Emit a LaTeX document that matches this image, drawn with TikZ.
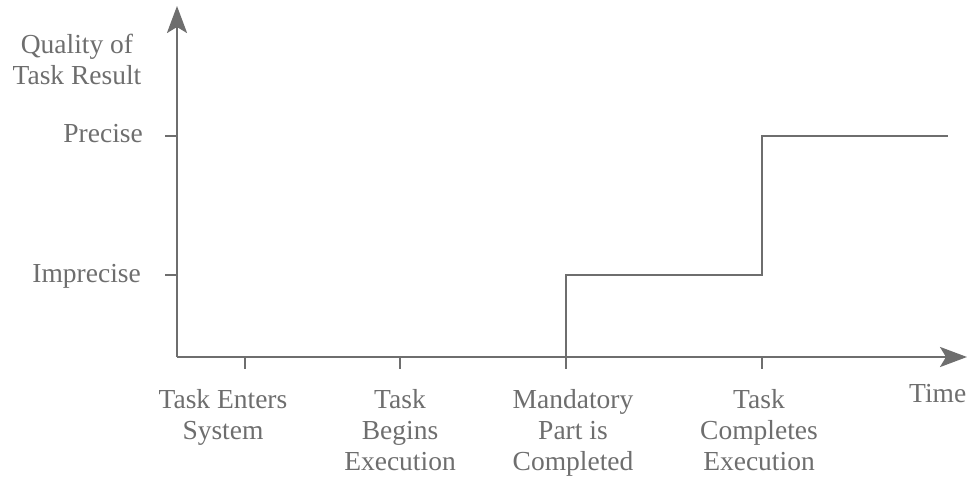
\documentclass[tikz,border=0pt]{standalone}
\usepackage{fontspec}
\setmainfont{Liberation Serif}
\usetikzlibrary{arrows.meta}
\definecolor{ink}{HTML}{6E6E6E}
\begin{document}
\begin{tikzpicture}[x=1pt,y=-1pt,
  axis/.style={draw=ink,line width=2.6pt,-{Stealth[length=27pt,width=20pt,inset=6pt]}},
  curve/.style={draw=ink,line width=2.6pt},
  tick/.style={draw=ink,line width=2pt},
  lbl/.style={text=ink,inner sep=0pt,font=\fontsize{27.5}{31}\selectfont},
  event/.style={lbl,align=center,anchor=north}]
\useasboundingbox (0,0) rectangle (967,484);
% axes
\coordinate (O) at (177,357);
\coordinate (ytop) at (177,6);
\coordinate (xend) at (967,357);
\draw[axis] (O) -- (ytop);
\draw[axis] (O) -- (xend);
% quality levels
\coordinate (imp) at (177,275);
\coordinate (pre) at (177,136);
\draw[tick] (imp) -- ++(-12,0);
\draw[tick] (pre) -- ++(-12,0);
\node[lbl,anchor=base east] (limp) at (141,282) {Imprecise};
\node[lbl,anchor=base east] (lpre) at (143,143) {Precise};
\node[lbl,align=center,anchor=north] (lq) at (77,34) {Quality of\\Task Result};
% time events
\coordinate (t1) at (245,357);
\coordinate (t2) at (400,357);
\coordinate (t3) at (566,357);
\coordinate (t4) at (762,357);
\foreach \t in {t1,t2,t3,t4} \draw[tick] (\t) -- ++(0,12);
\node[event] (e1) at (223,389) {Task Enters\\System};
\node[event] (e2) at (400,389) {Task\\Begins\\Execution};
\node[event] (e3) at (573,389) {Mandatory\\Part is\\Completed};
\node[event] (e4) at (759,389) {Task\\Completes\\Execution};
\node[lbl,anchor=base west] (time) at (909,402) {Time};
% result quality over time
\coordinate (a) at (566,275);
\coordinate (b) at (762,275);
\coordinate (c) at (762,136);
\coordinate (d) at (948,136);
\draw[curve] (t3) -- (a) -- (b) -- (c) -- (d);
\end{tikzpicture}
\end{document}
